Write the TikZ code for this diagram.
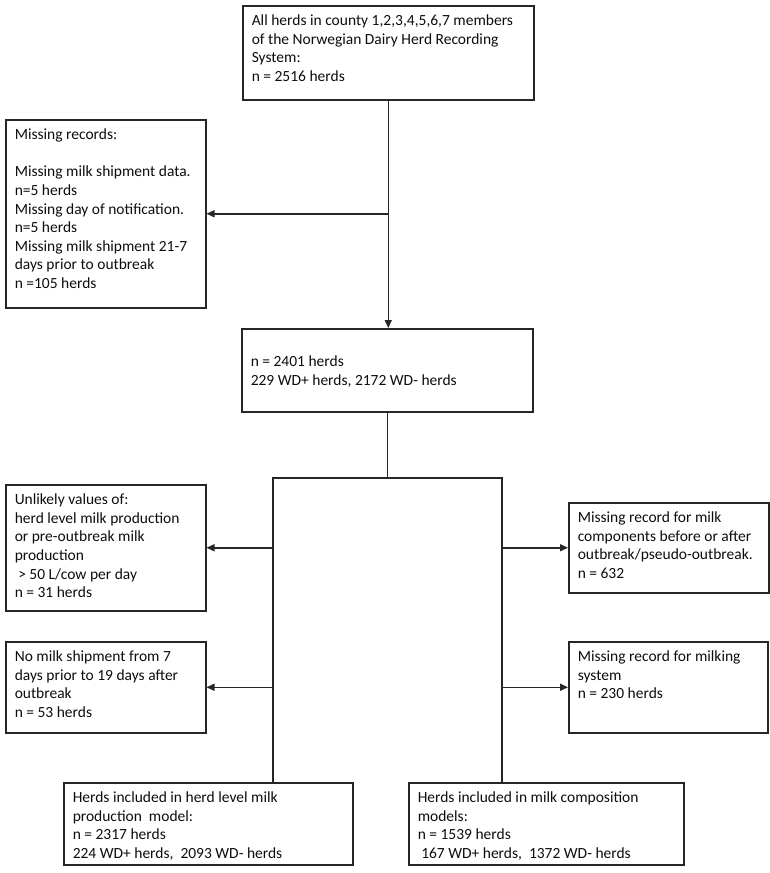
\documentclass[tikz,border=0pt]{standalone}
\usepackage{fontspec}
\setmainfont{Carlito}
\usetikzlibrary{arrows.meta,positioning}
\newcommand{\boxtext}[4][t]{\parbox[t][#3pt][#1]{#2pt}{\raggedright\strut #4}}

\begin{document}
\begin{tikzpicture}[
  x=1pt, y=-1pt,
  block/.style={
    rectangle, draw=black!85, line width=1.5pt,
    anchor=north west, inner xsep=9pt, inner ysep=7pt,
    font=\fontsize{15.5}{18.6}\selectfont, text=black!95
  },
  arrow/.style={-{Triangle[length=8pt,width=7pt]}, line width=1.5pt, draw=black!85},
  link/.style={line width=1.5pt, draw=black!85}
]
\useasboundingbox (0,0) rectangle (770,873);

% Row 1: all herds and first exclusion
\node[block, minimum width=291] (all) at (242,5)
  {\boxtext{273}{80}{All herds in county 1,2,3,4,5,6,7 members\\of the Norwegian Dairy Herd Recording\\System:\\n = 2516 herds}};
\node[block, minimum width=200] (missing) at (5,119)
  {\boxtext{182}{174}{Missing records:\\[18.6pt]Missing milk shipment data.\\n=5 herds\\Missing day of notification.\\n=5 herds\\Missing milk shipment 21-7\\days prior to outbreak\\n =105 herds}};

% Row 2: cleaned data
\node[block, minimum width=291] (cleaned) at (241,328)
  {\boxtext[c]{273}{69}{n = 2401 herds\\229 WD+ herds, 2172 WD- herds}};

% Row 3: exclusions per model
\node[block, minimum width=200] (unlikely) at (5,484)
  {\boxtext{182}{112}{Unlikely values of:\\herd level milk production\\or pre-outbreak milk\\production\\\ > 50 L/cow per day\\n = 31 herds}};
\node[block, minimum width=200] (noship) at (5,641)
  {\boxtext{182}{77}{No milk shipment from 7\\days prior to 19 days after\\outbreak\\n = 53 herds}};
\node[block, minimum width=200] (comps) at (568,502)
  {\boxtext{182}{76}{Missing record for milk\\components before or after\\outbreak/pseudo-outbreak.\\n = 632}};
\node[block, minimum width=199] (milking) at (568,641)
  {\boxtext{181}{77}{Missing record for milking\\system\\n = 230 herds}};

% Row 4: final models
\node[block, minimum width=289] (herdmodel) at (63,782)
  {\boxtext{271}{68}{Herds included in herd level milk\\production\ \ model:\\n = 2317 herds\\224 WD+ herds,\ \ 2093 WD- herds}};
\node[block, minimum width=275] (compmodel) at (408,782)
  {\boxtext{257}{68}{Herds included in milk composition\\models:\\n = 1539 herds\\\ 167 WD+ herds,\ \ 1372 WD- herds}};

% Connectors
\coordinate (splitL) at (273,478);
\coordinate (splitR) at (502,478);
\draw[arrow] (all.south) -- (all.south |- cleaned.north);
\draw[arrow] (all.south |- missing.east) -- (missing.east);
\draw[link] (cleaned.south) -- (cleaned.south |- splitL);
\draw[link] (splitL |- herdmodel.north) -- (splitL) -- (splitR) -- (splitR |- compmodel.north);
\draw[arrow] (splitL |- unlikely.east) -- (unlikely.east);
\draw[arrow] (splitL |- noship.east) -- (noship.east);
\draw[arrow] (splitR |- comps.west) -- (comps.west);
\draw[arrow] (splitR |- milking.west) -- (milking.west);

\end{tikzpicture}
\end{document}
